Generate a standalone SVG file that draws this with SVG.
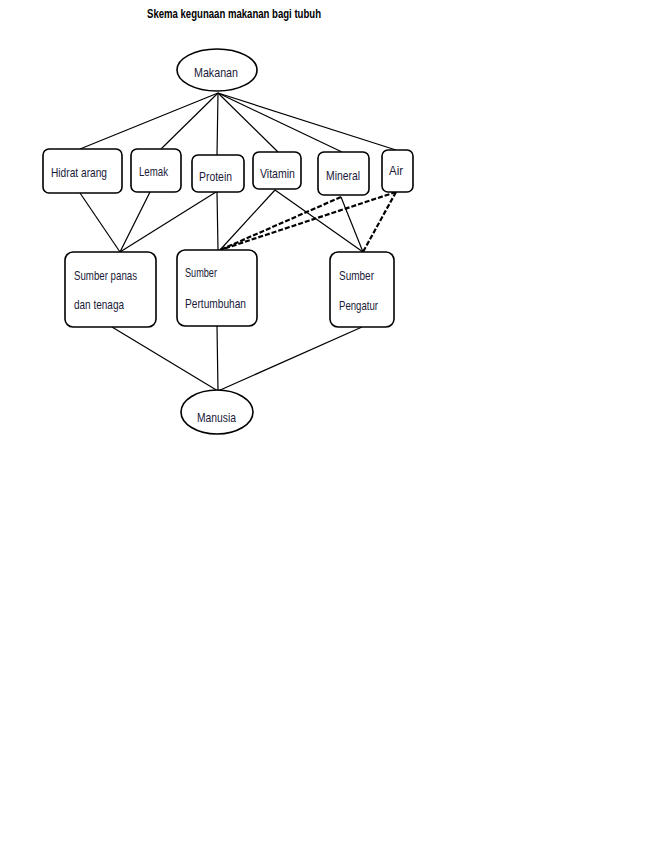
<svg xmlns="http://www.w3.org/2000/svg" width="670" height="842" viewBox="0 0 670 842">
<style>
.bg{fill:#fff}
.box{fill:#fff;stroke:#000;stroke-width:1.6}
.t{font-family:"Liberation Sans","DejaVu Sans",sans-serif;font-size:13px;fill:#1a1a3a}
.ln{stroke:#000;stroke-width:1.2;fill:none}
.dash{stroke:#000;stroke-width:2.2;stroke-dasharray:5 2;fill:none}
</style>
<rect class="bg" x="0" y="0" width="670" height="842"/>
<text x="147" y="18" font-family="'Liberation Sans',sans-serif" font-size="12" font-weight="bold" textLength="174" lengthAdjust="spacingAndGlyphs">Skema kegunaan makanan bagi tubuh</text>
<g id="connectors">
<line class="ln" x1="218" y1="93" x2="80" y2="149"/>
<line class="ln" x1="218" y1="93" x2="161" y2="149"/>
<line class="ln" x1="218" y1="93" x2="217" y2="155"/>
<line class="ln" x1="218" y1="93" x2="278" y2="152"/>
<line class="ln" x1="218" y1="93" x2="342" y2="152"/>
<line class="ln" x1="218" y1="93" x2="396" y2="150"/>
<line class="ln" x1="80" y1="193" x2="120" y2="252"/>
<line class="ln" x1="150" y1="192" x2="120" y2="252"/>
<line class="ln" x1="216" y1="192" x2="120" y2="252"/>
<line class="ln" x1="217" y1="192" x2="218" y2="250"/>
<line class="ln" x1="275" y1="190" x2="220" y2="250"/>
<line class="ln" x1="275" y1="190" x2="363" y2="252"/>
<line class="dash" x1="341" y1="197" x2="220" y2="250"/>
<line class="ln" x1="341" y1="197" x2="363" y2="252"/>
<line class="dash" x1="396" y1="192" x2="220" y2="250"/>
<line class="dash" x1="396" y1="192" x2="363" y2="252"/>
<line class="ln" x1="112" y1="327" x2="218" y2="391"/>
<line class="ln" x1="217" y1="326" x2="218" y2="391"/>
<line class="ln" x1="362" y1="327" x2="218" y2="391"/>
</g>
<g id="makanan"><ellipse class="box" cx="217" cy="70" rx="40" ry="21"/><text class="t" x="194" y="77" textLength="44" lengthAdjust="spacingAndGlyphs">Makanan</text></g>
<g id="hidrat"><rect class="box" x="43" y="149" width="79" height="44" rx="6"/><text class="t" x="51" y="177" textLength="56" lengthAdjust="spacingAndGlyphs">Hidrat arang</text></g>
<g id="lemak"><rect class="box" x="131" y="149" width="50" height="43" rx="6"/><text class="t" x="139" y="176" textLength="29" lengthAdjust="spacingAndGlyphs">Lemak</text></g>
<g id="protein"><rect class="box" x="192" y="155" width="52" height="37" rx="6"/><text class="t" x="199" y="181" textLength="33" lengthAdjust="spacingAndGlyphs">Protein</text></g>
<g id="vitamin"><rect class="box" x="253" y="152" width="48" height="37" rx="6"/><text class="t" x="260" y="178" textLength="35" lengthAdjust="spacingAndGlyphs">Vitamin</text></g>
<g id="mineral"><rect class="box" x="318" y="152" width="51" height="43" rx="6"/><text class="t" x="326" y="180" textLength="34" lengthAdjust="spacingAndGlyphs">Mineral</text></g>
<g id="air"><rect class="box" x="382" y="150" width="31" height="42" rx="6"/><text class="t" x="389" y="175" textLength="14" lengthAdjust="spacingAndGlyphs">Air</text></g>
<g id="panas"><rect class="box" x="65" y="252" width="91" height="75" rx="8"/><text class="t" x="74" y="280" textLength="63" lengthAdjust="spacingAndGlyphs">Sumber panas</text><text class="t" x="74" y="309" textLength="50" lengthAdjust="spacingAndGlyphs">dan tenaga</text></g>
<g id="pertumbuhan"><rect class="box" x="177" y="250" width="80" height="76" rx="8"/><text class="t" x="185" y="277" textLength="32" lengthAdjust="spacingAndGlyphs">Sumber</text><text class="t" x="185" y="308" textLength="61" lengthAdjust="spacingAndGlyphs">Pertumbuhan</text></g>
<g id="pengatur"><rect class="box" x="330" y="252" width="64" height="75" rx="8"/><text class="t" x="339" y="280" textLength="35" lengthAdjust="spacingAndGlyphs">Sumber</text><text class="t" x="339" y="310" textLength="39" lengthAdjust="spacingAndGlyphs">Pengatur</text></g>
<g id="manusia"><ellipse class="box" cx="217" cy="412" rx="36" ry="22"/><text class="t" x="197" y="422" textLength="39" lengthAdjust="spacingAndGlyphs">Manusia</text></g>
</svg>
